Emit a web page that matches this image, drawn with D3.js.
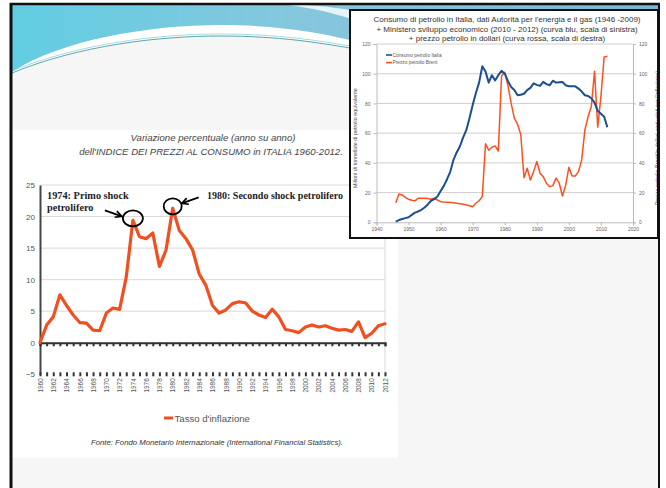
<!DOCTYPE html>
<html>
<head>
<meta charset="utf-8">
<script src="https://cdn.jsdelivr.net/npm/d3@7"></script>
<style>
  html, body { margin: 0; padding: 0; background: #ffffff; }
  svg { display: block; }
</style>
</head>
<body>
<svg id="slide" width="666" height="488"></svg>
<script>
// ---- Inflation in Italy (CPI, year on year, %) ----
const inflYears = [1960, 1961, 1962, 1963, 1964, 1965, 1966, 1967, 1968, 1969,
  1970, 1971, 1972, 1973, 1974, 1975, 1976, 1977, 1978, 1979,
  1980, 1981, 1982, 1983, 1984, 1985, 1986, 1987, 1988, 1989,
  1990, 1991, 1992, 1993, 1994, 1995, 1996, 1997, 1998, 1999,
  2000, 2001, 2002, 2003, 2004, 2005, 2006, 2007, 2008, 2009,
  2010, 2011, 2012];
const inflationRate = [0, 2.8, 4.1, 7.6, 5.9, 4.4, 3.2, 3.1, 2.0, 1.9,
  4.7, 5.5, 5.3, 10.4, 19.4, 16.8, 16.5, 17.4, 12.1, 14.7,
  21.3, 17.8, 16.5, 14.7, 10.9, 9.1, 5.9, 4.7, 5.2, 6.2,
  6.5, 6.3, 5.0, 4.4, 4.0, 5.3, 4.1, 2.1, 1.9, 1.6,
  2.5, 2.8, 2.5, 2.7, 2.3, 2.0, 2.1, 1.8, 3.3, 0.8,
  1.5, 2.7, 3.0];
const inflYTicks = [-5, 0, 5, 10, 15, 20, 25];
const inflXLabels = [1960, 1962, 1964, 1966, 1968, 1970, 1972, 1974, 1976, 1978,
  1980, 1982, 1984, 1986, 1988, 1990, 1992, 1994, 1996, 1998,
  2000, 2002, 2004, 2006, 2008, 2010, 2012];
const shocks = [
  { year: 1974, value: 19.4, label: ["1974: Primo shock", "petrolifero"] },
  { year: 1980, value: 21.3, label: ["1980: Secondo shock petrolifero"] }
];

// ---- Oil consumption in Italy (Mtoe) and Brent price (constant $) ----
const oilYears = [1946, 1947, 1948, 1949, 1950, 1951, 1952, 1953, 1954, 1955,
  1956, 1957, 1958, 1959, 1960, 1961, 1962, 1963, 1964, 1965,
  1966, 1967, 1968, 1969, 1970, 1971, 1972, 1973, 1974, 1975,
  1976, 1977, 1978, 1979, 1980, 1981, 1982, 1983, 1984, 1985,
  1986, 1987, 1988, 1989, 1990, 1991, 1992, 1993, 1994, 1995,
  1996, 1997, 1998, 1999, 2000, 2001, 2002, 2003, 2004, 2005,
  2006, 2007, 2008, 2009, 2010, 2011, 2012];
const oilConsumption = [0.5, 1.5, 2.2, 2.8, 3.4, 5.0, 6.5, 7.3, 8.4, 10.0,
  12.0, 14.5, 15.6, 17.4, 21, 24.5, 29, 34, 42, 47,
  51, 57, 62, 70, 79, 87, 94, 105, 101.5, 94,
  99, 95.5, 99, 102, 100, 95, 91, 89, 85.5, 85.8,
  86.5, 89, 90.5, 93.5, 92.5, 91.8, 94.5, 93, 92.2, 95.3,
  94, 94.3, 94.5, 92.2, 91.6, 91.5, 91.5, 90, 88, 85.5,
  85, 83.5, 80.5, 75, 73, 71, 64];
const brentPrice = [13.2, 19.1, 18.4, 16.8, 15.5, 14.8, 14.4, 16.2, 16.2, 16.2,
  16.0, 15.5, 16.2, 15.0, 13.9, 13.6, 13.5, 13.3, 13.1, 12.8,
  12.5, 12.2, 11.7, 11.1, 10.5, 12.8, 14.5, 17.3, 52.8, 48.5,
  50.5, 51.4, 48.0, 98.5, 101, 92, 80, 70, 66, 59,
  30, 36.4, 28.5, 34.1, 40.9, 33, 30.7, 26.3, 24, 24.7,
  29.7, 26.3, 17.7, 25, 37, 31.2, 31.2, 34.1, 42, 62.2,
  71.2, 78, 101.6, 64, 84.7, 111.3, 111.7];
const oilYTicks = [0, 20, 40, 60, 80, 100, 120];
const oilXTicks = [1940, 1950, 1960, 1970, 1980, 1990, 2000, 2010, 2020];
const oilSeriesNames = ["Consumo petrolio Italia", "Prezzo petrolio Brent"];

const svg = d3.select("#slide");
const defs = svg.append("defs");

// ---------- slide background ----------
svg.append("rect").attr("x", 10).attr("y", 3).attr("width", 650).attr("height", 485)
  .attr("fill", "#f6f6f6");

const grad = defs.append("linearGradient").attr("id", "band")
  .attr("x1", "0").attr("x2", "1").attr("y1", "0").attr("y2", "0");
grad.append("stop").attr("offset", "0").attr("stop-color", "#62cde2");
grad.append("stop").attr("offset", "0.45").attr("stop-color", "#86c7dd");
grad.append("stop").attr("offset", "1").attr("stop-color", "#7ab9d6");

// white sweep under the coloured band
svg.append("path")
  .attr("d", "M12,5 H658 V60 C560,52 420,44 350,48 C320,43 280,36 220,36 C160,36 80,45 12,74 Z")
  .attr("fill", "#ffffff");
// coloured header band
svg.append("path")
  .attr("d", "M12,5 H658 V34 C560,30 420,32 350,40 C320,33 280,25 220,25 C150,25 60,40 12,72 Z")
  .attr("fill", "url(#band)");
// light streak crossing the band
svg.append("path")
  .attr("d", "M288,5 C312,8 335,13 360,22 L360,12 C340,8 322,6 306,5 Z")
  .attr("fill", "#eef8fb").attr("opacity", 0.9);
svg.append("path")
  .attr("d", "M12,73 C80,45 160,36 220,36 C280,36 320,43 350,48")
  .attr("fill", "none").attr("stroke", "#2f8f95").attr("stroke-width", 0.8);
svg.append("path")
  .attr("d", "M12,71 C80,43 160,34 220,34 C280,34 320,41 350,46")
  .attr("fill", "none").attr("stroke", "#8fd0dc").attr("stroke-width", 0.8);

// white panel holding the inflation chart
svg.append("rect").attr("x", 12).attr("y", 130).attr("width", 386).attr("height", 328)
  .attr("fill", "#ffffff");

// ---------- inflation chart ----------
const xL = d3.scaleLinear().domain([1960, 2012]).range([40, 385]);
const yL = d3.scaleLinear().domain([-5, 25]).range([374.3, 185]);
const gL = svg.append("g");

gL.append("text").attr("x", 213).attr("y", 141)
  .attr("text-anchor", "middle").attr("font-family", "Liberation Sans, Arial, sans-serif")
  .attr("font-style", "italic").attr("font-size", 9.6).attr("fill", "#444")
  .text("Variazione percentuale (anno su anno)");
gL.append("text").attr("x", 211).attr("y", 154.5)
  .attr("text-anchor", "middle").attr("font-family", "Liberation Sans, Arial, sans-serif")
  .attr("font-style", "italic").attr("font-size", 9.6).attr("fill", "#444")
  .text("dell'INDICE DEI PREZZI AL CONSUMO in ITALIA 1960-2012.");

// horizontal gridlines
gL.append("g").selectAll("line").data(inflYTicks.filter(d => d > 0)).join("line")
  .attr("x1", xL(1960)).attr("x2", xL(2012))
  .attr("y1", d => yL(d)).attr("y2", d => yL(d))
  .attr("stroke", "#d9d9d9").attr("stroke-width", 1);
// right frame line
gL.append("line").attr("x1", xL(2012)).attr("x2", xL(2012))
  .attr("y1", yL(25)).attr("y2", yL(-5) + 2)
  .attr("stroke", "#d9d9d9").attr("stroke-width", 1);

// y axis
const yAxisL = gL.append("g").attr("transform", `translate(${xL(1960)},0)`)
  .call(d3.axisLeft(yL).tickValues(inflYTicks).tickSize(0).tickPadding(5));
yAxisL.select(".domain").attr("stroke", "#444").attr("stroke-width", 2);
yAxisL.selectAll("text").attr("font-family", "Liberation Sans, Arial, sans-serif")
  .attr("font-size", 8).attr("fill", "#555");

// x axis through zero, with year ticks
const zeroAxis = gL.append("g").attr("transform", `translate(0,${yL(0)})`)
  .call(d3.axisBottom(xL).tickValues(inflYears).tickSize(3.5).tickFormat(""));
zeroAxis.select(".domain").attr("stroke", "#333").attr("stroke-width", 2);
zeroAxis.selectAll(".tick line").attr("stroke", "#333").attr("stroke-width", 2);

// bottom category axis with rotated year labels
const bottomAxis = gL.append("g").attr("transform", `translate(0,${yL(-5) - 2})`)
  .call(d3.axisBottom(xL).tickValues(inflYears).tickSize(4).tickFormat(""));
bottomAxis.select(".domain").remove();
bottomAxis.selectAll(".tick line").attr("stroke", "#333").attr("stroke-width", 2);

const labelAxis = gL.append("g").attr("transform", `translate(0,${yL(-5)})`)
  .call(d3.axisBottom(xL).tickValues(inflXLabels).tickSize(0).tickFormat(d3.format("d")));
labelAxis.select(".domain").remove();
labelAxis.selectAll("text")
  .attr("transform", "rotate(-90)").attr("x", -4).attr("y", 0).attr("dy", "0.35em")
  .style("text-anchor", "end")
  .attr("font-family", "Liberation Sans, Arial, sans-serif")
  .attr("font-size", 6.4).attr("fill", "#555");

// inflation line
gL.append("path")
  .datum(inflYears.map((y, i) => [y, inflationRate[i]]))
  .attr("d", d3.line().x(d => xL(d[0])).y(d => yL(d[1])))
  .attr("fill", "none").attr("stroke", "#f04f1f").attr("stroke-width", 3.2)
  .attr("stroke-linejoin", "round").attr("stroke-linecap", "round");

// oil shock annotations
defs.append("marker").attr("id", "arrow").attr("viewBox", "0 0 10 10")
  .attr("refX", 9).attr("refY", 5).attr("markerWidth", 4.5).attr("markerHeight", 4.5)
  .attr("orient", "auto")
  .append("path").attr("d", "M1,1 L9,5 L1,9").attr("fill", "none")
  .attr("stroke", "#000").attr("stroke-width", 2);

const serif = "Liberation Serif, Times New Roman, serif";
const s1 = shocks[0], s2 = shocks[1];
gL.append("ellipse").attr("cx", xL(s1.year)).attr("cy", yL(s1.value) - 2)
  .attr("rx", 10).attr("ry", 8).attr("fill", "none").attr("stroke", "#000").attr("stroke-width", 1.8);
gL.append("ellipse").attr("cx", xL(s2.year)).attr("cy", yL(s2.value) - 2)
  .attr("rx", 9).attr("ry", 8).attr("fill", "none").attr("stroke", "#000").attr("stroke-width", 1.8);
gL.append("line").attr("x1", xL(s1.year) - 28).attr("y1", yL(s1.value) - 10)
  .attr("x2", xL(s1.year) - 11).attr("y2", yL(s1.value) - 4)
  .attr("stroke", "#000").attr("stroke-width", 1.8).attr("marker-end", "url(#arrow)");
gL.append("line").attr("x1", xL(s2.year) + 26).attr("y1", yL(s2.value) - 11)
  .attr("x2", xL(s2.year) + 9).attr("y2", yL(s2.value) - 5)
  .attr("stroke", "#000").attr("stroke-width", 1.8).attr("marker-end", "url(#arrow)");

const t1 = gL.append("text").attr("font-family", serif).attr("font-weight", "bold")
  .attr("font-size", 10.3).attr("fill", "#222");
t1.append("tspan").attr("x", 47).attr("y", 199).text(s1.label[0]);
t1.append("tspan").attr("x", 47).attr("y", 210.5).text(s1.label[1]);
gL.append("text").attr("x", 207).attr("y", 198.5).attr("font-family", serif)
  .attr("font-weight", "bold").attr("font-size", 10).attr("fill", "#222")
  .text(s2.label[0]);

// legend and source
gL.append("line").attr("x1", 164).attr("x2", 173).attr("y1", 418).attr("y2", 418)
  .attr("stroke", "#f04f1f").attr("stroke-width", 3);
gL.append("text").attr("x", 174.5).attr("y", 421.5)
  .attr("font-family", "Liberation Sans, Arial, sans-serif").attr("font-size", 9.6)
  .attr("fill", "#555").text("Tasso d'inflazione");
gL.append("text").attr("x", 217).attr("y", 445)
  .attr("text-anchor", "middle").attr("font-family", "Liberation Sans, Arial, sans-serif")
  .attr("font-style", "italic").attr("font-size", 7.75).attr("fill", "#333")
  .text("Fonte: Fondo Monetario Internazionale (International Financial Statistics).");

// ---------- oil chart (inset box) ----------
const gR = svg.append("g");
gR.append("rect").attr("x", 350).attr("y", 10).attr("width", 308).attr("height", 228)
  .attr("fill", "#ffffff");

const xR = d3.scaleLinear().domain([1940, 2020]).range([376.5, 633]);
const yR = d3.scaleLinear().domain([0, 120]).range([222.3, 44]);
const sans = "Liberation Sans, Arial, sans-serif";

const titleLines = [
  "Consumo di petrolio in Italia, dati Autorità per l'energia e il gas (1946 -2009)",
  "+ Ministero sviluppo economico (2010 - 2012) (curva blu, scala di sinistra)",
  "+ prezzo petrolio in dollari (curva rossa, scala di destra)"
];
gR.append("g").selectAll("text").data(titleLines).join("text")
  .attr("x", 507).attr("y", (d, i) => 22 + i * 9.6)
  .attr("text-anchor", "middle").attr("font-family", sans)
  .attr("font-size", 8).attr("fill", "#333").text(d => d);

// gridlines
gR.append("g").selectAll("line").data(oilYTicks.filter(d => d > 0)).join("line")
  .attr("x1", xR(1940)).attr("x2", xR(2020))
  .attr("y1", d => yR(d)).attr("y2", d => yR(d))
  .attr("stroke", "#cfcfcf").attr("stroke-width", 1);

const axL = gR.append("g").attr("transform", `translate(${xR(1940)},0)`)
  .call(d3.axisLeft(yR).tickValues(oilYTicks).tickSize(3).tickPadding(3));
const axR = gR.append("g").attr("transform", `translate(${xR(2020)},0)`)
  .call(d3.axisRight(yR).tickValues(oilYTicks).tickSize(3).tickPadding(3));
const axB = gR.append("g").attr("transform", `translate(0,${yR(0)})`)
  .call(d3.axisBottom(xR).tickValues(oilXTicks).tickSize(3).tickPadding(2).tickFormat(d3.format("d")));
[axL, axR, axB].forEach(a => {
  a.select(".domain").attr("stroke", "#bbb").attr("stroke-width", 1);
  a.selectAll(".tick line").attr("stroke", "#bbb");
  a.selectAll("text").attr("font-family", sans).attr("font-size", 5).attr("fill", "#666");
});

gR.append("text")
  .attr("transform", `translate(357,${(yR(0) + yR(120)) / 2 + 5}) rotate(-90)`)
  .attr("text-anchor", "middle").attr("font-family", sans).attr("font-size", 5.4)
  .attr("fill", "#555").text("Milioni di tonnellate di petrolio equivalente");
gR.append("text")
  .attr("transform", `translate(659,${(yR(0) + yR(120)) / 2 + 5}) rotate(-90)`)
  .attr("text-anchor", "middle").attr("font-family", sans).attr("font-size", 5.4)
  .attr("fill", "#555").text("Prezzo petrolio Brent(in dollari aggiustati per l'inflazione)");

const oilLine = d3.line().x(d => xR(d[0])).y(d => yR(d[1]));
gR.append("path")
  .datum(oilYears.map((y, i) => [y, brentPrice[i]]))
  .attr("d", oilLine).attr("fill", "none").attr("stroke", "#ff4f1f")
  .attr("stroke-width", 1.5).attr("stroke-linejoin", "round");
gR.append("path")
  .datum(oilYears.map((y, i) => [y, oilConsumption[i]]))
  .attr("d", oilLine).attr("fill", "none").attr("stroke", "#1b4f8e")
  .attr("stroke-width", 2).attr("stroke-linejoin", "round");

const legendColors = ["#1b4f8e", "#ff4f1f"];
const lg = gR.append("g").selectAll("g").data(oilSeriesNames).join("g")
  .attr("transform", (d, i) => `translate(386,${55 + i * 7.6})`);
lg.append("line").attr("x1", 0).attr("x2", 6).attr("y1", 0).attr("y2", 0)
  .attr("stroke", (d, i) => legendColors[i]).attr("stroke-width", 1.6);
lg.append("text").attr("x", 6.5).attr("y", 1.7).attr("font-family", sans)
  .attr("font-size", 4.8).attr("fill", "#555").text(d => d);

gR.append("rect").attr("x", 350).attr("y", 10).attr("width", 308).attr("height", 228)
  .attr("fill", "none").attr("stroke", "#111").attr("stroke-width", 2);

// ---------- slide frame ----------
svg.append("line").attr("x1", 11).attr("x2", 11).attr("y1", 3).attr("y2", 488)
  .attr("stroke", "#111").attr("stroke-width", 3);
svg.append("line").attr("x1", 10).attr("x2", 660).attr("y1", 4).attr("y2", 4)
  .attr("stroke", "#111").attr("stroke-width", 2.5);
svg.append("line").attr("x1", 659).attr("x2", 659).attr("y1", 3).attr("y2", 488)
  .attr("stroke", "#111").attr("stroke-width", 2);
</script>
</body>
</html>
